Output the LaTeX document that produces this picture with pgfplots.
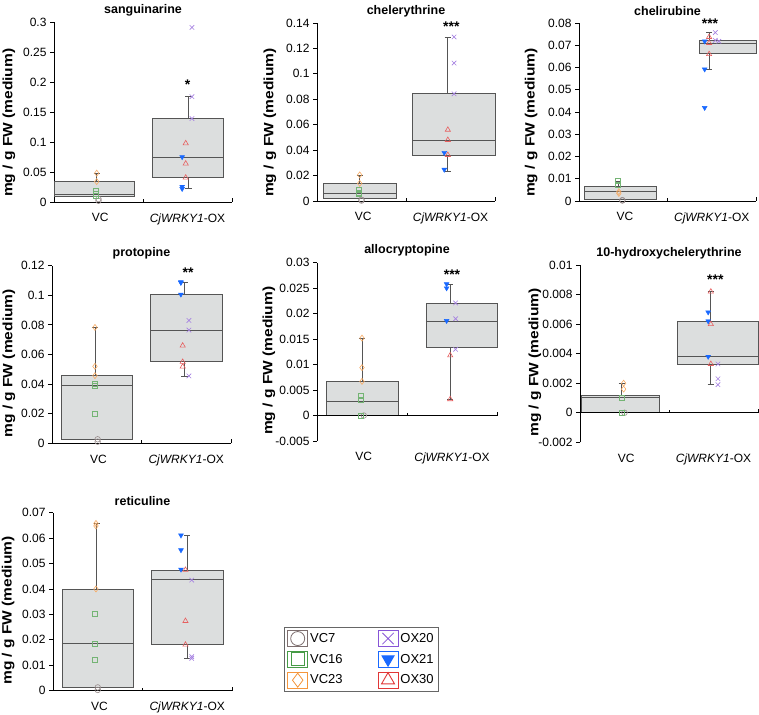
\documentclass[border=0pt]{standalone}
\usepackage{fontspec}
\setmainfont{Liberation Sans}
\usepackage{pgfplots}
\pgfplotsset{compat=1.18}

\definecolor{c7}{RGB}{125,110,110}
\definecolor{c16}{RGB}{70,155,70}
\definecolor{c23}{RGB}{245,150,60}
\definecolor{c20}{RGB}{135,85,215}
\definecolor{c21}{RGB}{25,105,255}
\definecolor{c30}{RGB}{225,55,55}
\definecolor{boxfill}{RGB}{220,222,222}
\definecolor{boxline}{RGB}{85,85,85}

\pgfplotsset{
 panel/.style={
  scale only axis, xmin=0, xmax=2, clip=false,
  axis y line*=left, axis x line*=bottom,
  x axis line style={draw=none},
  y axis line style={black, line width=0.9pt},
  xtick={0.52,1.5}, xticklabels={VC,{\textit{CjWRKY1}-OX}},
  xtick style={draw=none},
  ytick style={black, line width=0.9pt},
  tick align=outside, major tick length=4pt,
  scaled y ticks=false,
  tick label style={font=\fontsize{12}{14}\selectfont},
  xticklabel style={yshift=-4pt},
  ylabel={\scalebox{1.15}[1]{\textbf{mg / g FW (medium)}}},
  ylabel style={anchor=center, font=\fontsize{13.5}{15}\selectfont},
  title style={font=\bfseries\fontsize{12.5}{14}\selectfont, at={(rel axis cs:0.5,1)}, anchor=center, yshift=6pt},
 },
 boxst/.style={forget plot, fill=boxfill, draw=boxline, line width=0.8pt},
 medst/.style={forget plot, draw=boxline, line width=0.8pt},
 whst/.style={forget plot, draw=boxline, line width=0.8pt},
 zst/.style={forget plot, draw=black, line width=0.9pt},
 vc7/.style={forget plot, only marks, mark=o, mark size=2.8pt, c7!80!white, mark options={line width=0.6pt}},
 vc16/.style={forget plot, only marks, mark=square, mark size=2.5pt, c16!75!white, mark options={line width=0.6pt}},
 vc23/.style={forget plot, only marks, mark=diamond, mark size=3pt, c23!80!white, mark options={line width=0.6pt}},
 ox20/.style={forget plot, only marks, mark=x, mark size=3.2pt, c20!75!white, mark options={line width=0.6pt}},
 ox21/.style={forget plot, only marks, mark=triangle*, mark size=2.8pt, c21, mark options={rotate=180, fill=c21}},
 ox30/.style={forget plot, only marks, mark=triangle, mark size=3pt, c30!80!white, mark options={line width=0.6pt}},
}

\newcommand\bx[5]{%
 \addplot[boxst] coordinates {(#1,#3) (#2,#3) (#2,#4) (#1,#4)} -- cycle;
 \addplot[medst] coordinates {(#1,#5) (#2,#5)};}
\newcommand\wk[3]{%
 \pgfmathsetmacro\wa{#1-0.035}\pgfmathsetmacro\wb{#1+0.035}%
 \edef\tmp{\noexpand\addplot[whst] coordinates {(#1,#2) (#1,#3)};
 \noexpand\addplot[whst] coordinates {(\wa,#3) (\wb,#3)};}\tmp}
\newcommand\zl{%
 \addplot[zst] coordinates {(0,0) (2,0)};
 \draw[black, line width=0.9pt] (axis cs:1,0) -- ([yshift=3pt]axis cs:1,0);
 \draw[black, line width=0.9pt] (axis cs:2,0) -- ([yshift=4pt]axis cs:2,0);}
\newcommand\stars[3]{\node[font=\bfseries\fontsize{14}{16}\selectfont, yshift=-3pt] at (axis cs:#1,#2) {#3};}

\begin{document}
\begin{tikzpicture}
\useasboundingbox (0pt,0pt) rectangle (759pt,714pt);

% ---------- sanguinarine
\begin{axis}[panel, at={(54pt,512pt)}, anchor=south west, width=178pt, height=180pt,
 ymin=0, ymax=0.3, ytick={0,0.05,0.1,0.15,0.2,0.25,0.3},
 yticklabels={0,0.05,0.1,0.15,0.2,0.25,0.3},
 ylabel style={at={(rel axis cs:-0.253,0.44)}}, title={sanguinarine}]
\bx{0}{0.9}{0.01}{0.034}{0.0128}
\wk{0.48}{0.034}{0.048}
\bx{1.1}{1.9}{0.0406}{0.139}{0.075}
\wk{1.51}{0.139}{0.1756}
\wk{1.51}{0.0406}{0.0228}
\zl
\addplot[vc7] coordinates {(0.5,0.005) (0.5,0.002)};
\addplot[vc16] coordinates {(0.47,0.018) (0.47,0.014) (0.47,0.01)};
\addplot[vc23] coordinates {(0.48,0.048) (0.48,0.034)};
\addplot[ox20] coordinates {(1.55,0.291) (1.55,0.1756) (1.55,0.139)};
\addplot[ox21] coordinates {(1.44,0.075) (1.44,0.0256) (1.44,0.022)};
\addplot[ox30] coordinates {(1.48,0.0978) (1.48,0.064) (1.48,0.0406)};
\stars{1.5}{0.2}{*}
\end{axis}

% ---------- chelerythrine
\begin{axis}[panel, at={(317pt,513pt)}, anchor=south west, width=178pt, height=178pt,
 ymin=0, ymax=0.14, ytick={0,0.02,0.04,0.06,0.08,0.1,0.12,0.14},
 yticklabels={0,0.02,0.04,0.06,0.08,0.1,0.12,0.14},
 ylabel style={at={(rel axis cs:-0.264,0.44)}}, title={chelerythrine}]
\bx{0.07}{0.89}{0.002}{0.0139}{0.0063}
\wk{0.48}{0.0139}{0.0205}
\bx{1.07}{2.0}{0.0362}{0.0843}{0.048}
\wk{1.47}{0.0843}{0.129}
\wk{1.47}{0.0362}{0.0236}
\zl
\addplot[vc7] coordinates {(0.5,0.001) (0.5,0.0003)};
\addplot[vc16] coordinates {(0.47,0.0087) (0.47,0.0068) (0.47,0.0055)};
\addplot[vc23] coordinates {(0.48,0.0205) (0.48,0.0139)};
\addplot[ox20] coordinates {(1.54,0.129) (1.54,0.1085) (1.54,0.0843)};
\addplot[ox21] coordinates {(1.43,0.038) (1.43,0.0247)};
\addplot[ox30] coordinates {(1.47,0.056) (1.47,0.048) (1.47,0.0362)};
\stars{1.51}{0.1398}{***}
\end{axis}

% ---------- chelirubine
\begin{axis}[panel, at={(579pt,513pt)}, anchor=south west, width=177pt, height=178pt,
 ymin=0, ymax=0.08, ytick={0,0.01,0.02,0.03,0.04,0.05,0.06,0.07,0.08},
 yticklabels={0,0.01,0.02,0.03,0.04,0.05,0.06,0.07,0.08},
 ylabel style={at={(rel axis cs:-0.271,0.44)}}, title={chelirubine}]
\bx{0.06}{0.88}{0.00075}{0.0067}{0.0045}
\wk{0.44}{0.0067}{0.0087}
\bx{1.36}{2.0}{0.0665}{0.0722}{0.071}
\wk{1.47}{0.0722}{0.0757}
\wk{1.47}{0.0665}{0.059}
\zl
\addplot[vc7] coordinates {(0.49,0.0004) (0.49,0.0002)};
\addplot[vc16] coordinates {(0.44,0.009) (0.44,0.0072)};
\addplot[vc23] coordinates {(0.45,0.0042) (0.45,0.0034)};
\addplot[ox20] coordinates {(1.54,0.0757) (1.54,0.0722) (1.58,0.0718)};
\addplot[ox21] coordinates {(1.42,0.0718) (1.42,0.0592) (1.42,0.0419)};
\addplot[ox30] coordinates {(1.47,0.0737) (1.47,0.071) (1.47,0.066)};
\stars{1.48}{0.081}{***}
\end{axis}

% ---------- protopine
\begin{axis}[panel, at={(52pt,270.7pt)}, anchor=south west, width=179pt, height=177.6pt,
 ymin=0, ymax=0.12, ytick={0,0.02,0.04,0.06,0.08,0.1,0.12},
 yticklabels={0,0.02,0.04,0.06,0.08,0.1,0.12},
 ylabel style={at={(rel axis cs:-0.24,0.45)}}, title={protopine}]
\bx{0.1}{0.9}{0.0027}{0.0457}{0.0392}
\wk{0.48}{0.0457}{0.0783}
\bx{1.1}{1.9}{0.055}{0.1006}{0.0765}
\wk{1.48}{0.1006}{0.109}
\wk{1.48}{0.055}{0.0455}
\zl
\addplot[vc7] coordinates {(0.51,0.0027) (0.51,0.0011)};
\addplot[vc16] coordinates {(0.48,0.0405) (0.48,0.039) (0.48,0.0196)};
\addplot[vc23] coordinates {(0.48,0.0783) (0.48,0.052) (0.48,0.0457)};
\addplot[ox20] coordinates {(1.53,0.083) (1.53,0.0765) (1.53,0.0455)};
\addplot[ox21] coordinates {(1.44,0.109) (1.44,0.1085) (1.44,0.1006)};
\addplot[ox30] coordinates {(1.46,0.066) (1.46,0.055) (1.46,0.0518)};
\stars{1.52}{0.1176}{**}
\end{axis}

% ---------- allocryptopine
\begin{axis}[panel, at={(317pt,273pt)}, anchor=south west, width=180pt, height=178.3pt,
 ymin=-0.005, ymax=0.03, ytick={-0.005,0,0.005,0.01,0.015,0.02,0.025,0.03},
 yticklabels={-0.005,0,0.005,0.01,0.015,0.02,0.025,0.03},
 ylabel style={at={(rel axis cs:-0.267,0.45)}}, title={allocryptopine}]
\bx{0.1}{0.9}{0}{0.0067}{0.0028}
\wk{0.5}{0.0067}{0.0152}
\bx{1.21}{2.0}{0.0134}{0.0221}{0.0185}
\wk{1.48}{0.0221}{0.0258}
\wk{1.48}{0.0134}{0.0032}
\zl
\addplot[vc7] coordinates {(0.52,0)};
\addplot[vc16] coordinates {(0.49,0.0039) (0.49,0.0031) (0.49,0)};
\addplot[vc23] coordinates {(0.5,0.0152) (0.5,0.0094) (0.5,0.0067)};
\addplot[ox20] coordinates {(1.54,0.0221) (1.54,0.019) (1.54,0.013)};
\addplot[ox21] coordinates {(1.44,0.0258) (1.44,0.025) (1.44,0.0186)};
\addplot[ox30] coordinates {(1.48,0.0118) (1.48,0.0032)};
\stars{1.5}{0.0283}{***}
\end{axis}

% ---------- 10-hydroxychelerythrine
\begin{axis}[panel, at={(580pt,271.7pt)}, anchor=south west, width=178pt, height=177.3pt,
 ymin=-0.002, ymax=0.01, ytick={-0.002,0,0.002,0.004,0.006,0.008,0.01},
 yticklabels={-0.002,0,0.002,0.004,0.006,0.008,0.01},
 ylabel style={at={(rel axis cs:-0.253,0.45)}}, title={10-hydroxychelerythrine}]
\bx{0.02}{0.89}{0}{0.00117}{0.00106}
\wk{0.47}{0.00117}{0.002}
\bx{1.09}{2.0}{0.0033}{0.0062}{0.0038}
\wk{1.47}{0.0062}{0.0082}
\wk{1.47}{0.0033}{0.0019}
\zl
\addplot[vc7] coordinates {(0.5,0)};
\addplot[vc16] coordinates {(0.47,0.001) (0.47,0)};
\addplot[vc23] coordinates {(0.49,0.002) (0.49,0.0016)};
\addplot[ox20] coordinates {(1.55,0.0033) (1.55,0.0023) (1.55,0.0019)};
\addplot[ox21] coordinates {(1.44,0.0068) (1.44,0.0062) (1.44,0.0038)};
\addplot[ox30] coordinates {(1.47,0.0082) (1.47,0.006) (1.47,0.0033)};
\stars{1.52}{0.0092}{***}
\end{axis}

% ---------- reticuline
\begin{axis}[panel, at={(53pt,23.3pt)}, anchor=south west, width=179pt, height=178pt,
 ymin=0, ymax=0.07, ytick={0,0.01,0.02,0.03,0.04,0.05,0.06,0.07},
 yticklabels={0,0.01,0.02,0.03,0.04,0.05,0.06,0.07},
 ylabel style={at={(rel axis cs:-0.251,0.45)}}, title={reticuline},
 legend columns=2,
 legend style={at={(rel axis cs:1.29,-0.007)}, anchor=south west, draw=gray!80!black,
   line width=0.8pt, font=\fontsize{13}{15}\selectfont, row sep=4pt,
   inner xsep=3pt, inner ysep=3pt,
   /tikz/every even column/.append style={column sep=33pt}},
 legend cell align=left,
 legend image code/.code={\path (-10pt,-8pt) rectangle (10pt,8pt); \draw[#1] plot coordinates {(0pt,0pt)};}]
\bx{0.1}{0.9}{0.0013}{0.04}{0.0185}
\wk{0.49}{0.04}{0.0658}
\bx{1.1}{1.9}{0.0181}{0.0475}{0.0438}
\wk{1.5}{0.0475}{0.0611}
\wk{1.5}{0.0181}{0.0126}
\zl
\addplot[vc7] coordinates {(0.5,0.0013) (0.5,0.0003)};
\addplot[vc16] coordinates {(0.47,0.0302) (0.47,0.0185) (0.47,0.0121)};
\addplot[vc23] coordinates {(0.48,0.0658) (0.48,0.0648) (0.48,0.04)};
\addplot[ox20] coordinates {(1.55,0.0435) (1.55,0.0134) (1.55,0.0127)};
\addplot[ox21] coordinates {(1.43,0.0611) (1.43,0.0553) (1.43,0.0477)};
\addplot[ox30] coordinates {(1.48,0.0475) (1.48,0.0274) (1.48,0.0181)};
\addlegendimage{only marks, mark=o, mark size=7pt, c7, mark options={line width=0.8pt}}
\addlegendentry{VC7}
\addlegendimage{only marks, mark=x, mark size=8pt, c20, mark options={line width=0.8pt}}
\addlegendentry{OX20}
\addlegendimage{only marks, mark=square, mark size=6.5pt, c16, mark options={line width=0.9pt}}
\addlegendentry{VC16}
\addlegendimage{only marks, mark=triangle*, mark size=7pt, c21, mark options={rotate=180, fill=c21}}
\addlegendentry{OX21}
\addlegendimage{only marks, mark=diamond, mark size=7pt, c23, mark options={line width=0.8pt}}
\addlegendentry{VC23}
\addlegendimage{only marks, mark=triangle, mark size=7.5pt, c30, mark options={line width=0.9pt}}
\addlegendentry{OX30}
\end{axis}
\end{tikzpicture}
\end{document}
